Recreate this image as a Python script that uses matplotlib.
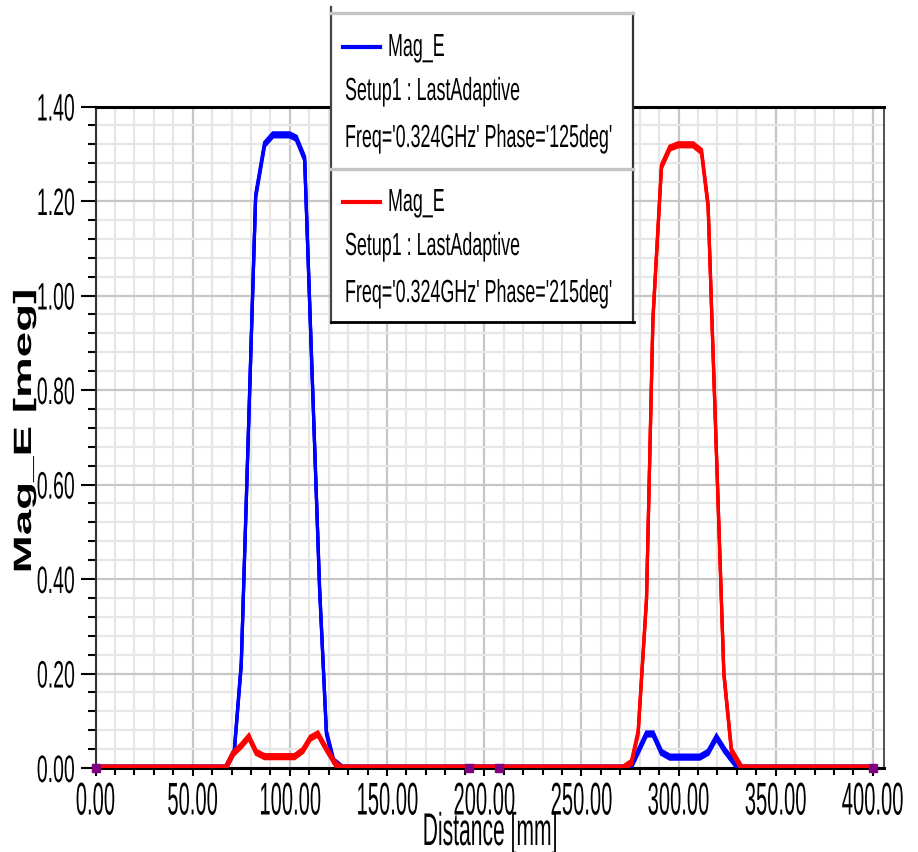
import matplotlib
matplotlib.use("Agg")
import matplotlib.pyplot as plt
from matplotlib.patheffects import AbstractPathEffect, Stroke, Normal
from matplotlib.transforms import Affine2D
from matplotlib.lines import Line2D
from matplotlib.ticker import MultipleLocator

# Mag_E along the line, phase 125deg (blue) and 215deg (red)
dist_blue = [0, 67, 71.4, 75, 82.4, 87, 91.3, 99.9, 103.3, 107.6, 115.3, 118.8, 122.5, 127,
             271.5, 275.8, 283.5, 286.9, 291.2, 295.5, 310.9, 315.2, 319.5, 323.8, 329.8, 333, 400]
mag_blue = [0, 0, 0.035, 0.22, 1.21, 1.32, 1.34, 1.34, 1.333, 1.29, 0.38, 0.075, 0.015, 0,
            0, 0.005, 0.072, 0.072, 0.033, 0.023, 0.023, 0.033, 0.065, 0.037, 0.005, 0, 0]

dist_red = [0, 67, 70.7, 75, 78.9, 82.7, 87, 102.4, 106.7, 110.5, 114.4, 118.8, 123.9, 127,
            271.5, 275.8, 279.2, 283.5, 286.8, 291.2, 295.5, 299.8, 307.5, 311.8, 315.2,
            323.3, 327.2, 332.5, 400]
mag_red = [0, 0, 0.03, 0.047, 0.066, 0.033, 0.024, 0.024, 0.037, 0.063, 0.072, 0.04, 0.006, 0,
           0, 0.012, 0.075, 0.357, 0.95, 1.273, 1.312, 1.319, 1.319, 1.305, 1.19,
           0.2, 0.037, 0, 0]

marker_x = [0, 192, 207.5, 400]
marker_y = [0, 0, 0, 0]

xticks = [0, 50, 100, 150, 200, 250, 300, 350, 400]
yticks = [0, 0.2, 0.4, 0.6, 0.8, 1.0, 1.2, 1.4]

legend_lines = [
    ("blue", ["Mag_E", "Setup1 : LastAdaptive", "Freq='0.324GHz' Phase='125deg'"]),
    ("red", ["Mag_E", "Setup1 : LastAdaptive", "Freq='0.324GHz' Phase='215deg'"]),
]

W, H = 918, 853
FONT = "Liberation Sans"


class Squeeze(AbstractPathEffect):
    # squeeze text horizontally (the source picture has condensed lettering)
    def __init__(self, sx, anchor="center"):
        super().__init__()
        self.sx = sx
        self.anchor = anchor

    def draw_path(self, renderer, gc, tpath, affine, rgbFace=None):
        ext = tpath.get_extents()
        if self.anchor == "left":
            p = 0
        elif self.anchor == "right":
            p = ext.x1
        else:
            p = (ext.x0 + ext.x1) / 2
        t = Affine2D().translate(-p, 0).scale(self.sx, 1).translate(p, 0)
        renderer.draw_path(gc, tpath, t + affine, rgbFace)


def fx(x):
    return x / W


def fy(y):
    return 1 - y / H


fig = plt.figure(figsize=(W / 100, H / 100), dpi=100)
ax = fig.add_axes([fx(95.5), fy(769), (884 - 95.5) / W, (769 - 107.5) / H])

ax.set_xlim(0, 405.7)
ax.set_ylim(0, 1.4)

ax.xaxis.set_minor_locator(MultipleLocator(10))
ax.yaxis.set_minor_locator(MultipleLocator(0.04))
ax.grid(which="minor", color="#e6e6e6", lw=1.6, zorder=0)
ax.grid(which="major", color="#c6c6c6", lw=1.6, zorder=0)
ax.set_axisbelow(True)

# thick horizontal parts like the original (vertically stretched render)
def fat(c):
    return [Stroke(offset=(0, 1.45), foreground=c), Stroke(offset=(0, -1.45), foreground=c), Normal()]

ax.plot(dist_blue, mag_blue, color="#0000ff", lw=2.3, path_effects=fat("#0000ff"), zorder=3,
        solid_joinstyle="miter")
ax.plot(dist_red, mag_red, color="#ff0000", lw=2.3, path_effects=fat("#ff0000"), zorder=4,
        solid_joinstyle="miter")
ax.plot(marker_x, marker_y, ls="none", marker="s", ms=5.5, color="#800080", zorder=5,
        clip_on=False)

ax.set_xticks(xticks)
xl = ax.set_xticklabels(["%.2f" % v for v in xticks], fontsize=33, family=FONT)
for t in xl:
    t.set_path_effects([Squeeze(0.44, "center")])
ax.set_yticks(yticks)
yl = ax.set_yticklabels(["%.2f" % v for v in yticks], fontsize=27.5, family=FONT)
for t in yl:
    t.set_path_effects([Squeeze(0.51, "right")])

ax.tick_params(axis="y", which="major", direction="out", length=10.8, width=1.5, pad=3.6, colors="black")
ax.tick_params(axis="y", which="minor", direction="out", length=5.8, width=1.5, colors="black")
ax.tick_params(axis="x", which="major", direction="out", length=6, width=1.5, pad=3, colors="black")
ax.tick_params(axis="x", which="minor", direction="out", length=5, width=1.5, colors="black")

ax.spines["left"].set_color("#333333")
ax.spines["left"].set_linewidth(1.5)
ax.spines["right"].set_color("#333333")
ax.spines["right"].set_linewidth(1.2)
ax.spines["top"].set_color("black")
ax.spines["top"].set_linewidth(2.2)
ax.spines["bottom"].set_color("black")
ax.spines["bottom"].set_linewidth(2.2)

xlab = ax.set_xlabel("Distance [mm]", fontsize=33, family=FONT, va="top")
xlab.set_path_effects([Squeeze(0.46, "center")])
ax.xaxis.set_label_coords((490 - 95.5) / 788.5, (769 - 812) / 661.5)
ylab = ax.set_ylabel("Mag_E [meg]", fontsize=18, family=FONT, weight="bold", va="center")
ylab.set_path_effects([Squeeze(1.83, "center")])
ax.yaxis.set_label_coords((24 - 95.5) / 788.5, (769 - 432) / 661.5)

# legend panel drawn by hand (it sticks out above the plot frame)
fig.add_artist(plt.Rectangle((fx(331), fy(324)), 303 / W, 310 / H, transform=fig.transFigure,
                             facecolor="white", edgecolor="none", zorder=5))
for (x0, y0, x1, y1, c, lw) in [(331, 8, 331, 324, "#444444", 1.6),
                                (633, 14, 633, 324, "#333333", 1.6),
                                (331, 14, 633, 14, "#c4c4c4", 2.4),
                                (331, 170, 633, 170, "#c4c4c4", 2.4),
                                (331, 323, 634, 323, "black", 2.0)]:
    fig.add_artist(Line2D([fx(x0), fx(x1)], [fy(y0), fy(y1)], transform=fig.transFigure,
                          color=c, lw=lw, zorder=6))

base = [57, 101, 148]
for i, (c, lines) in enumerate(legend_lines):
    off = i * 155
    fig.add_artist(Line2D([fx(343), fx(380)], [fy(48 + off), fy(48 + off)], transform=fig.transFigure,
                          color=c, lw=3, zorder=7))
    for j, s in enumerate(lines):
        x0 = 388 if j == 0 else 345
        t = fig.text(fx(x0), fy(base[j] + off), s, fontsize=23, family=FONT, ha="left",
                     va="baseline", zorder=7)
        t.set_path_effects([Squeeze(0.56, "left")])

fig.savefig("out.png", dpi=100)
